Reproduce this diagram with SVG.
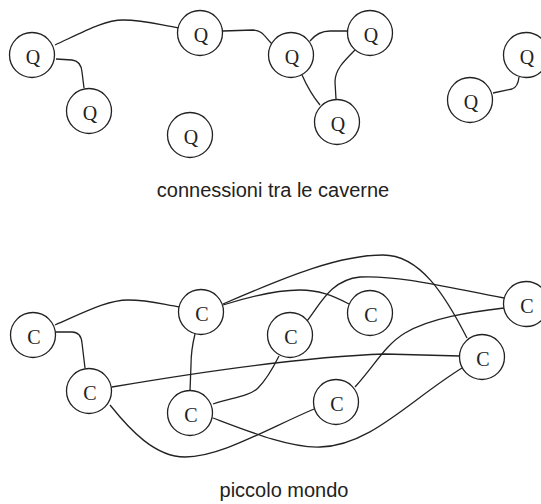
<svg xmlns="http://www.w3.org/2000/svg" width="541" height="504" viewBox="0 0 541 504">
<style>
.node circle{fill:#fff;stroke:#222;stroke-width:1.3}
.node text{font-family:"Liberation Serif","Times New Roman",serif;font-size:20px;fill:#222;text-anchor:middle}
#connectors path{fill:none;stroke:#222;stroke-width:1.3}
.caption{font-family:"Liberation Sans",Arial,sans-serif;font-size:20px;fill:#222;text-anchor:middle}
</style>
<rect width="541" height="504" fill="#fff"/>
<g id="connectors">
<path d="M55,45 C85,31 105,20 123,20 C145,20 160,25 179,28"/>
<path d="M56,59 L72,60 Q81,61 82,72 L84,88"/>
<path d="M223,31 L253,30 C262,30 265,37 272,44"/>
<path d="M310,41 Q318,31 330,31 L347,31"/>
<path d="M355,50 C343,62 335,70 335,82 L336,99"/>
<path d="M302,75 Q310,93 320,105"/>
<path d="M493,93 L512,89 Q518,87 519,77"/>
<path d="M55,325 C85,312 108,300 128,300 C150,300 165,305 180,307"/>
<path d="M56,332 L72,332 Q81,332 82,343 L85,368"/>
<path d="M195,334 Q191,350 191,365 L190,391"/>
<path d="M112,387 C200,372 300,357 385,354 L460,356"/>
<path d="M110,405 C130,430 155,457 185,457 C220,457 265,430 314,409"/>
<path d="M213,418 C250,432 290,448 320,447 C370,446 410,400 462,368"/>
<path d="M223,304 C290,275 340,255 383,255 C420,255 445,295 467,338"/>
<path d="M223,305 C255,295 280,290 300,290 C318,290 332,295 349,304"/>
<path d="M307,321 C320,305 330,280 360,277 C400,275 450,288 504,298"/>
<path d="M355,387 C375,365 385,345 405,333 C430,318 470,312 504,308"/>
<path d="M213,404 C230,398 250,396 258,388 C266,380 272,370 279,356"/>
</g>
<g id="q1" class="node"><circle cx="32" cy="55" r="22.5"/><text x="33" y="64">Q</text></g>
<g id="q2" class="node"><circle cx="89" cy="111" r="22.5"/><text x="90" y="120">Q</text></g>
<g id="q3" class="node"><circle cx="200" cy="33" r="22.5"/><text x="201" y="42">Q</text></g>
<g id="q4" class="node"><circle cx="291" cy="55" r="22.5"/><text x="292" y="64">Q</text></g>
<g id="q5" class="node"><circle cx="370" cy="33" r="22.5"/><text x="371" y="42">Q</text></g>
<g id="q6" class="node"><circle cx="337" cy="122" r="22.5"/><text x="338" y="131">Q</text></g>
<g id="q7" class="node"><circle cx="526" cy="55" r="22.5"/><text x="527" y="64">Q</text></g>
<g id="q8" class="node"><circle cx="470" cy="100" r="22.5"/><text x="471" y="109">Q</text></g>
<g id="q9" class="node"><circle cx="190" cy="135" r="22.5"/><text x="191" y="144">Q</text></g>
<text class="caption" x="273" y="197">connessioni tra le caverne</text>
<g id="c1" class="node"><circle cx="33" cy="335" r="22.5"/><text x="34" y="344">C</text></g>
<g id="c2" class="node"><circle cx="201" cy="312" r="22.5"/><text x="202" y="321">C</text></g>
<g id="c3" class="node"><circle cx="89" cy="391" r="22.5"/><text x="90" y="400">C</text></g>
<g id="c4" class="node"><circle cx="190" cy="413" r="22.5"/><text x="191" y="422">C</text></g>
<g id="c5" class="node"><circle cx="290" cy="335" r="22.5"/><text x="291" y="344">C</text></g>
<g id="c6" class="node"><circle cx="370" cy="313" r="22.5"/><text x="371" y="322">C</text></g>
<g id="c7" class="node"><circle cx="526" cy="304" r="22.5"/><text x="527" y="313">C</text></g>
<g id="c8" class="node"><circle cx="482" cy="357" r="22.5"/><text x="483" y="366">C</text></g>
<g id="c9" class="node"><circle cx="336" cy="402" r="22.5"/><text x="337" y="411">C</text></g>
<text class="caption" x="284" y="497">piccolo mondo</text>
</svg>
